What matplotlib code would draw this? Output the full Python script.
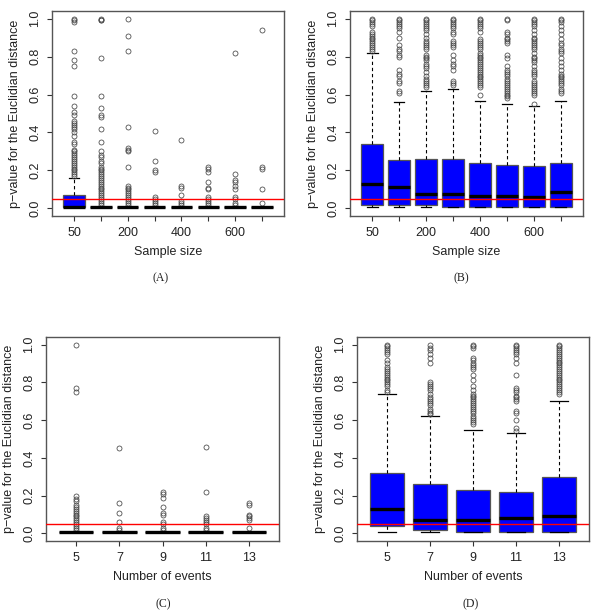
import matplotlib
matplotlib.use("Agg")
import matplotlib.pyplot as plt

plt.rcParams['font.family'] = ['Liberation Sans', 'DejaVu Sans']

# ---------------- data ----------------
sample_sizes = ["50", "100", "200", "300", "400", "500", "600", "700"]
sample_labels_shown = ["50", "", "200", "", "400", "", "600", ""]
events = ["5", "7", "9", "11", "13"]
threshold = 0.05

# Panel A
a_lo  = [0.01, 0.01, 0.01, 0.01, 0.01, 0.01, 0.01, 0.01]
a_q1  = [0.01, 0.01, 0.01, 0.01, 0.01, 0.01, 0.01, 0.01]
a_med = [0.01, 0.01, 0.01, 0.01, 0.01, 0.01, 0.01, 0.01]
a_q3  = [0.07, 0.01, 0.01, 0.01, 0.01, 0.01, 0.01, 0.01]
a_hi  = [0.16, 0.01, 0.01, 0.01, 0.01, 0.01, 0.01, 0.01]
a_out = [
    [1.0, 0.99, 0.98, 0.83, 0.78, 0.75, 0.59, 0.54, 0.51, 0.49, 0.46, 0.45, 0.44, 0.43,
     0.42, 0.40, 0.38, 0.35, 0.34, 0.31, 0.30, 0.29, 0.28, 0.27, 0.26, 0.25, 0.24, 0.23,
     0.22, 0.21, 0.20, 0.19, 0.18, 0.17],
    [1.0, 0.995, 0.99, 0.79, 0.59, 0.53, 0.49, 0.48, 0.42, 0.35, 0.30, 0.28, 0.27, 0.25,
     0.24, 0.22, 0.21, 0.20, 0.19, 0.18, 0.17, 0.16, 0.15, 0.14, 0.13, 0.12, 0.11, 0.10,
     0.09, 0.08, 0.07, 0.06, 0.05, 0.04, 0.03, 0.02],
    [1.0, 0.91, 0.83, 0.43, 0.32, 0.31, 0.30, 0.22, 0.12, 0.11, 0.10, 0.09, 0.08, 0.07,
     0.06, 0.05, 0.04, 0.03, 0.02],
    [0.41, 0.25, 0.20, 0.19, 0.06, 0.05, 0.04, 0.03, 0.02],
    [0.36, 0.12, 0.11, 0.07, 0.04, 0.03, 0.02],
    [0.22, 0.21, 0.19, 0.14, 0.11, 0.10, 0.06, 0.05, 0.04, 0.03, 0.02],
    [0.82, 0.18, 0.15, 0.14, 0.12, 0.10, 0.06, 0.05, 0.03, 0.02],
    [0.94, 0.22, 0.21, 0.10, 0.03],
]

# Panel B
b_lo  = [0.01, 0.01, 0.01, 0.008, 0.008, 0.008, 0.008, 0.008]
b_q1  = [0.016, 0.016, 0.016, 0.008, 0.008, 0.008, 0.008, 0.008]
b_med = [0.126, 0.112, 0.077, 0.077, 0.068, 0.068, 0.06, 0.088]
b_q3  = [0.34, 0.254, 0.26, 0.26, 0.237, 0.228, 0.225, 0.237]
b_hi  = [0.82, 0.56, 0.617, 0.63, 0.568, 0.551, 0.54, 0.568]
b_out = [
    [0.83, 0.84, 0.85, 0.86, 0.87, 0.88, 0.89, 0.90, 0.91, 0.92, 0.93, 0.96, 0.97, 0.98,
     0.99, 1.0],
    [0.61, 0.62, 0.66, 0.67, 0.70, 0.71, 0.73, 0.80, 0.81, 0.83, 0.84, 0.86, 0.90, 0.93,
     0.95, 0.96, 0.97, 0.98, 0.99, 1.0],
    [0.64, 0.65, 0.66, 0.67, 0.68, 0.70, 0.72, 0.74, 0.75, 0.76, 0.78, 0.79, 0.80, 0.81,
     0.84, 0.85, 0.86, 0.87, 0.88, 0.90, 0.92, 0.94, 0.95, 0.96, 0.97, 0.98, 0.99, 1.0],
    [0.65, 0.66, 0.67, 0.73, 0.75, 0.76, 0.78, 0.81, 0.85, 0.86, 0.87, 0.88, 0.92, 0.93,
     0.95, 0.96, 0.97, 0.98, 0.99, 1.0],
    [0.60, 0.64, 0.65, 0.66, 0.67, 0.68, 0.69, 0.70, 0.71, 0.72, 0.73, 0.74, 0.75, 0.76,
     0.77, 0.78, 0.79, 0.80, 0.81, 0.82, 0.84, 0.85, 0.86, 0.87, 0.88, 0.89, 0.93, 0.95,
     0.96, 0.97, 0.98, 0.99, 1.0],
    [0.58, 0.59, 0.60, 0.61, 0.62, 0.63, 0.64, 0.65, 0.66, 0.67, 0.68, 0.70, 0.71, 0.72,
     0.73, 0.75, 0.79, 0.81, 0.87, 0.88, 0.89, 0.90, 0.92, 0.93, 0.99, 1.0],
    [0.55, 0.60, 0.61, 0.62, 0.63, 0.64, 0.65, 0.66, 0.67, 0.70, 0.71, 0.72, 0.73, 0.75,
     0.77, 0.78, 0.79, 0.80, 0.82, 0.84, 0.85, 0.86, 0.87, 0.88, 0.89, 0.90, 0.92, 0.94,
     0.96, 0.97, 0.98, 0.99, 1.0],
    [0.61, 0.62, 0.63, 0.65, 0.66, 0.67, 0.68, 0.69, 0.70, 0.71, 0.73, 0.75, 0.77, 0.79,
     0.82, 0.83, 0.84, 0.86, 0.87, 0.89, 0.92, 0.94, 0.96, 0.98, 0.99, 1.0],
]

# Panel C
c_lo  = [0.01, 0.01, 0.01, 0.01, 0.01]
c_q1  = [0.01, 0.01, 0.01, 0.01, 0.01]
c_med = [0.01, 0.01, 0.01, 0.01, 0.01]
c_q3  = [0.01, 0.01, 0.01, 0.01, 0.01]
c_hi  = [0.01, 0.01, 0.01, 0.01, 0.01]
c_out = [
    [1.0, 0.77, 0.75, 0.20, 0.18, 0.17, 0.15, 0.14, 0.13, 0.12, 0.11, 0.10, 0.09, 0.08,
     0.07, 0.06, 0.05, 0.04, 0.03, 0.02],
    [0.45, 0.16, 0.11, 0.06, 0.03, 0.02],
    [0.22, 0.21, 0.19, 0.14, 0.11, 0.10, 0.06, 0.05, 0.03, 0.02],
    [0.46, 0.22, 0.09, 0.08, 0.07, 0.06, 0.05, 0.03, 0.02],
    [0.16, 0.15, 0.10, 0.09, 0.08, 0.07, 0.03],
]

# Panel D
d_lo  = [0.01, 0.01, 0.01, 0.01, 0.01]
d_q1  = [0.04, 0.02, 0.01, 0.01, 0.01]
d_med = [0.13, 0.07, 0.07, 0.08, 0.09]
d_q3  = [0.32, 0.26, 0.23, 0.22, 0.30]
d_hi  = [0.74, 0.62, 0.55, 0.53, 0.70]
d_out = [
    [0.75, 0.76, 0.78, 0.79, 0.80, 0.81, 0.82, 0.83, 0.84, 0.85, 0.86, 0.87, 0.88, 0.90,
     0.92, 0.95, 0.96, 0.97, 0.98, 0.99, 1.0],
    [0.63, 0.64, 0.65, 0.66, 0.68, 0.69, 0.70, 0.71, 0.72, 0.74, 0.76, 0.77, 0.78, 0.79,
     0.80, 0.90, 0.93, 0.95, 0.97, 0.98, 1.0],
    [0.58, 0.59, 0.60, 0.61, 0.62, 0.64, 0.65, 0.66, 0.67, 0.68, 0.69, 0.70, 0.71, 0.72,
     0.73, 0.74, 0.76, 0.78, 0.81, 0.84, 0.87, 0.88, 0.89, 0.90, 0.92, 0.93, 0.98, 0.99, 1.0],
    [0.54, 0.56, 0.60, 0.64, 0.65, 0.70, 0.71, 0.72, 0.73, 0.75, 0.76, 0.77, 0.84, 0.90,
     0.93, 0.95, 0.96, 0.97, 0.98, 0.99, 1.0],
    [0.74, 0.75, 0.76, 0.77, 0.78, 0.79, 0.80, 0.81, 0.82, 0.83, 0.84, 0.85, 0.86, 0.87,
     0.88, 0.89, 0.90, 0.91, 0.92, 0.93, 0.94, 0.95, 0.96, 0.97, 0.98, 0.99, 1.0],
]

ylabel = "p\u2212value for the Euclidian distance"
captions = ["(A)", "(B)", "(C)", "(D)"]

# ---------------- drawing ----------------
fig = plt.figure(figsize=(6.0, 6.12), dpi=100)

W, H = 600.0, 612.0
def add_axes(left, top, right, bottom):
    return fig.add_axes([left / W, 1 - bottom / H, (right - left) / W, (bottom - top) / H])

axA = add_axes(52, 11, 284, 216)
axB = add_axes(350, 11, 583, 216)
axC = add_axes(46, 337, 279, 541)
axD = add_axes(357, 337, 589, 541)

frame_col = "#555555"
FS = 9

def draw(ax, lo, q1, med, q3, hi, out, labels, xlabel):
    stats = []
    for i in range(len(med)):
        stats.append(dict(whislo=lo[i], q1=q1[i], med=med[i], q3=q3[i], whishi=hi[i],
                          fliers=out[i]))
    n = len(stats)
    ax.bxp(stats, positions=list(range(1, n + 1)), widths=0.8, patch_artist=True,
           boxprops=dict(facecolor="#0000ff", edgecolor="#555555", linewidth=0.9),
           medianprops=dict(color="black", linewidth=2.4, solid_capstyle="butt"),
           whiskerprops=dict(color="black", linestyle=(0, (3, 2.5)), linewidth=0.8),
           capprops=dict(color="black", linewidth=0.9),
           flierprops=dict(marker="o", markersize=3.6, markerfacecolor="none",
                           markeredgecolor="#444444", markeredgewidth=0.55,
                           linestyle="none"),
           manage_ticks=False)
    ax.axhline(threshold, color="#ff0000", linewidth=1.0, zorder=5)
    ax.set_xlim(0.5 - 0.04 * n, n + 0.5 + 0.04 * n)
    ax.set_ylim(-0.04, 1.04)
    ax.set_xticks(list(range(1, n + 1)))
    ax.set_xticklabels(labels, fontsize=FS)
    ax.set_yticks([0.0, 0.2, 0.4, 0.6, 0.8, 1.0])
    ax.set_yticklabels(["0.0", "0.2", "0.4", "0.6", "0.8", "1.0"], fontsize=FS,
                       rotation=90, va="center")
    ax.tick_params(direction="out", length=3.6, width=0.8, colors="#333333",
                   labelcolor="#222222")
    ax.tick_params(axis="x", pad=4)
    ax.tick_params(axis="y", pad=4)
    for s in ax.spines.values():
        s.set_color(frame_col)
        s.set_linewidth(1.0)
    ax.set_xlabel(xlabel, fontsize=FS, color="#222222", labelpad=5)
    ax.set_ylabel(ylabel, fontsize=FS, color="#222222", labelpad=6)

draw(axA, a_lo, a_q1, a_med, a_q3, a_hi, a_out, sample_labels_shown, "Sample size")
draw(axB, b_lo, b_q1, b_med, b_q3, b_hi, b_out, sample_labels_shown, "Sample size")
draw(axC, c_lo, c_q1, c_med, c_q3, c_hi, c_out, events, "Number of events")
draw(axD, d_lo, d_q1, d_med, d_q3, d_hi, d_out, events, "Number of events")

cap_pos = [(161, 278), (461, 278), (163, 604), (471, 604)]
for (x, y), t in zip(cap_pos, captions):
    fig.text(x / W, 1 - y / H, t, ha="center", va="center", fontsize=8.5,
             family=["Liberation Serif", "DejaVu Serif"], color="#222222")

fig.savefig("out.png", dpi=100)
